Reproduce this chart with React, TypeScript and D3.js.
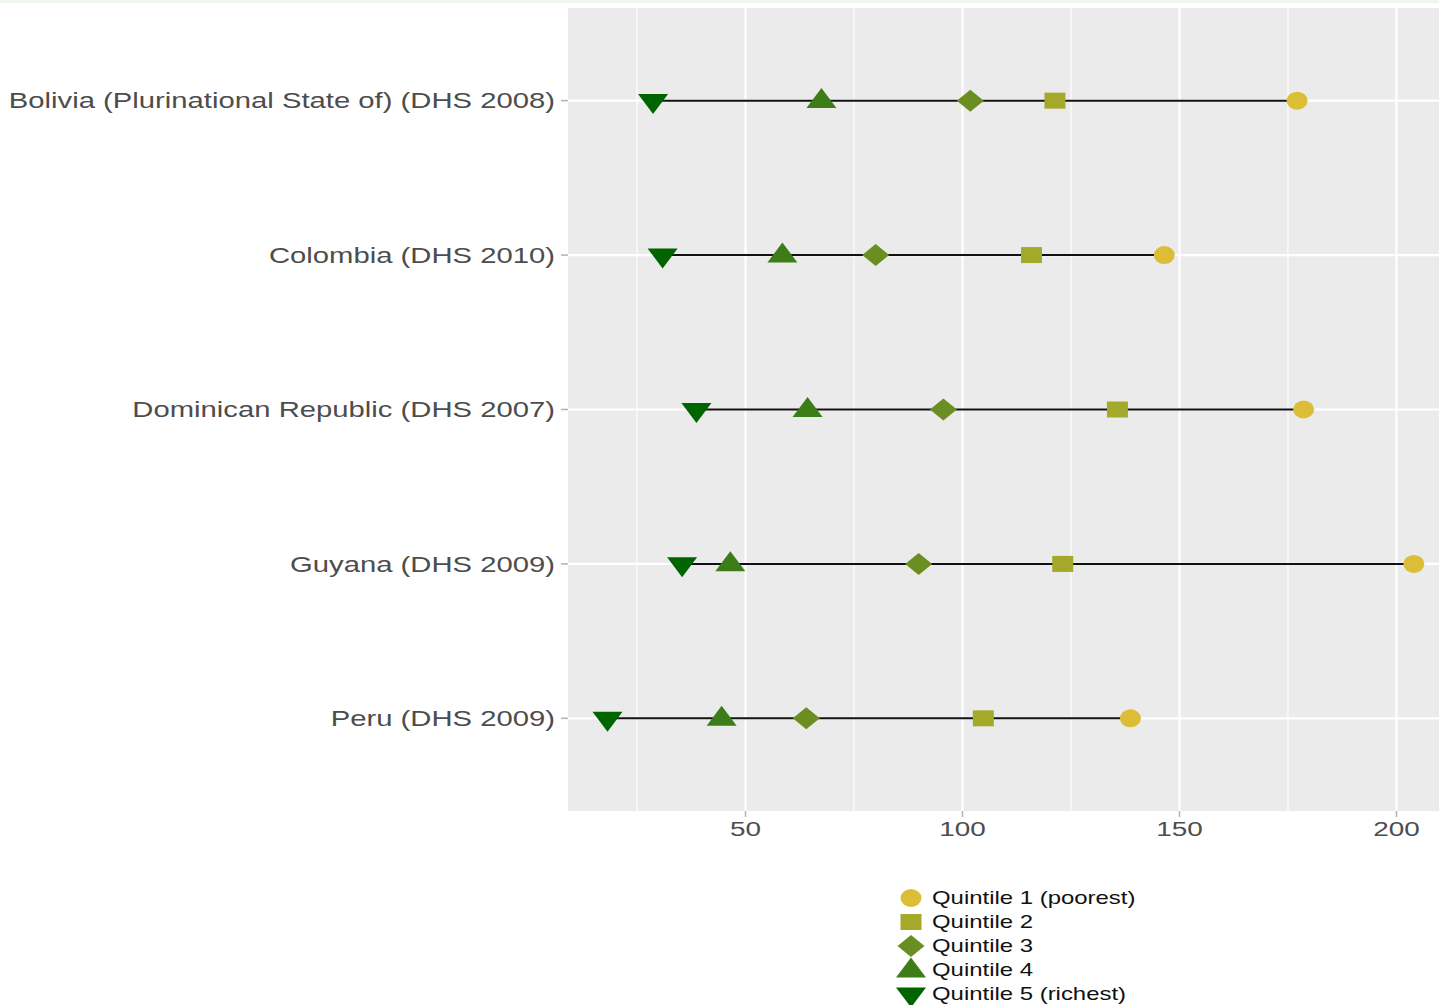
import React from "react";
import * as d3 from "d3";

const countries = [
  "Bolivia (Plurinational State of) (DHS 2008)",
  "Colombia (DHS 2010)",
  "Dominican Republic (DHS 2007)",
  "Guyana (DHS 2009)",
  "Peru (DHS 2009)",
];
const quintileNames = [
  "Quintile 1 (poorest)",
  "Quintile 2",
  "Quintile 3",
  "Quintile 4",
  "Quintile 5 (richest)",
];
const q1 = [177.1, 146.5, 178.6, 204.0, 138.7];
const q2 = [121.3, 115.9, 135.7, 123.1, 104.8];
const q3 = [101.8, 80.0, 95.6, 89.9, 64.0];
const q4 = [67.5, 58.5, 64.3, 46.5, 44.5];
const q5 = [28.7, 30.9, 38.7, 35.4, 18.2];
const series = [q1, q2, q3, q4, q5];
const colors = ["#dbbd36", "#a4a92a", "#6b8e23", "#3c7d18", "#006400"];
const majorTicks = [50, 100, 150, 200];
const minorTicks = [25, 75, 125, 175];

const W = 1439;
const H = 1005;
const panel = { left: 568, right: 1439, top: 8, bottom: 811 };
const stretch = 1.33;

function Marker({ k, cx, cy, color }: { k: number; cx: number; cy: number; color: string }) {
  if (k === 0) return <ellipse cx={cx} cy={cy} rx={10.5} ry={9} fill={color} />;
  if (k === 1) return <rect x={cx - 10.5} y={cy - 8} width={21} height={16} fill={color} />;
  if (k === 2)
    return (
      <path
        d={`M${cx},${cy - 11}L${cx + 13.5},${cy}L${cx},${cy + 11}L${cx - 13.5},${cy}Z`}
        fill={color}
      />
    );
  if (k === 3)
    return (
      <path d={`M${cx},${cy - 12.6}L${cx + 15},${cy + 7.4}L${cx - 15},${cy + 7.4}Z`} fill={color} />
    );
  return <path d={`M${cx - 15},${cy - 6.6}L${cx + 15},${cy - 6.6}L${cx},${cy + 13.4}Z`} fill={color} />;
}

export default function App() {
  const x = d3.scaleLinear().domain([9.1, 209.8]).range([panel.left, panel.right]);
  const y = d3
    .scalePoint<string>()
    .domain(countries)
    .range([panel.top, panel.bottom])
    .padding(0.6);

  const font = "'Liberation Sans', Arial, Helvetica, sans-serif";

  return (
    <svg width={W} height={H} style={{ position: "absolute", left: 0, top: 0 }} fontFamily={font}>
      <rect x={0} y={0} width={W} height={H} fill="#ffffff" />
      <rect x={0} y={0} width={W} height={3} fill="#eef6ee" />
      <rect
        x={panel.left}
        y={panel.top}
        width={panel.right - panel.left}
        height={panel.bottom - panel.top}
        fill="#ebebeb"
      />
      {minorTicks.map((t) => (
        <line key={"mi" + t} x1={x(t)} x2={x(t)} y1={panel.top} y2={panel.bottom} stroke="#ffffff" strokeWidth={1.1} />
      ))}
      {majorTicks.map((t) => (
        <line key={"ma" + t} x1={x(t)} x2={x(t)} y1={panel.top} y2={panel.bottom} stroke="#ffffff" strokeWidth={2.2} />
      ))}
      {countries.map((c) => (
        <line key={"h" + c} x1={panel.left} x2={panel.right} y1={y(c)} y2={y(c)} stroke="#ffffff" strokeWidth={2.2} />
      ))}
      {countries.map((c, i) => {
        const vals = series.map((s) => s[i]);
        return (
          <line
            key={"seg" + c}
            x1={x(d3.min(vals)!)}
            x2={x(d3.max(vals)!)}
            y1={y(c)}
            y2={y(c)}
            stroke="#111111"
            strokeWidth={2}
          />
        );
      })}
      {countries.map((c, i) =>
        series.map((s, k) => (
          <Marker key={c + k} k={k} cx={x(s[i])} cy={y(c)!} color={colors[k]} />
        ))
      )}
      {countries.map((c) => (
        <g key={"yl" + c}>
          <line x1={panel.left - 7} x2={panel.left} y1={y(c)} y2={y(c)} stroke="#b3b3b3" strokeWidth={1.5} />
          <text
            transform={`translate(${panel.left - 13},${y(c)}) scale(${stretch},1)`}
            textAnchor="end"
            dominantBaseline="central"
            fontSize={22}
            fill="#4d4d4d"
          >
            {c}
          </text>
        </g>
      ))}
      {majorTicks.map((t) => (
        <g key={"xl" + t}>
          <line x1={x(t)} x2={x(t)} y1={panel.bottom} y2={panel.bottom + 6} stroke="#b3b3b3" strokeWidth={1.5} />
          <text
            transform={`translate(${x(t)},${panel.bottom + 18}) scale(${stretch},1)`}
            textAnchor="middle"
            dominantBaseline="central"
            fontSize={21}
            fill="#4d4d4d"
          >
            {t}
          </text>
        </g>
      ))}
      {quintileNames.map((n, k) => {
        const cy = 898 + k * 24;
        return (
          <g key={"lg" + k}>
            <Marker k={k} cx={911} cy={cy} color={colors[k]} />
            <text
              transform={`translate(932,${cy}) scale(${stretch},1)`}
              dominantBaseline="central"
              fontSize={18}
              fill="#111111"
            >
              {n}
            </text>
          </g>
        );
      })}
    </svg>
  );
}
